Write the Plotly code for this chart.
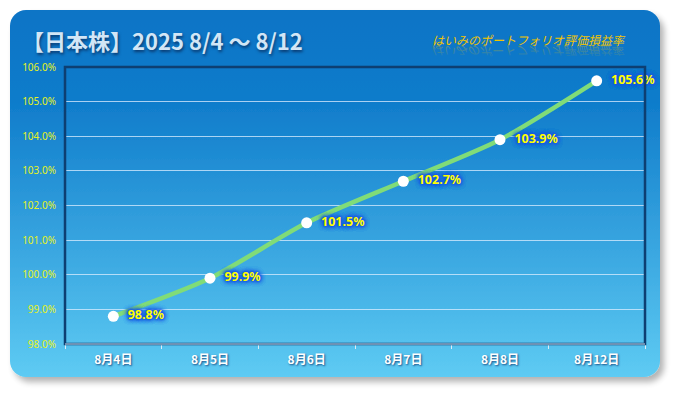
import base64
import plotly.graph_objects as go

# ---- data ----
categories = ["8月4日", "8月5日", "8月6日", "8月7日", "8月8日", "8月12日"]
values = [98.8, 99.9, 101.5, 102.7, 103.9, 105.6]
labels = [f"{v:.1f}%" for v in values]
y_ticks = [98, 99, 100, 101, 102, 103, 104, 105, 106]
y_ticklabels = [f"{t:.1f}%" for t in y_ticks]
title_text = "【日本株】2025 8/4 〜 8/12"
subtitle_text = "はいみのポートフォリオ評価損益率"

W, H = 675, 393

# background card (rounded, gradient, drop shadow) as an SVG image
svg = f'''<svg xmlns="http://www.w3.org/2000/svg" width="{W}" height="{H}" viewBox="0 0 {W} {H}">
<defs>
<linearGradient id="g" x1="0" y1="0" x2="0" y2="1">
<stop offset="0" stop-color="#0a74c6"/>
<stop offset="0.25" stop-color="#0f7ccb"/>
<stop offset="1" stop-color="#5ecbf3"/>
</linearGradient>
<filter id="s" x="-10%" y="-10%" width="120%" height="125%">
<feGaussianBlur in="SourceAlpha" stdDeviation="3"/>
<feOffset dx="4" dy="5" result="o"/>
<feComponentTransfer><feFuncA type="linear" slope="0.3"/></feComponentTransfer>
<feMerge><feMergeNode/><feMergeNode in="SourceGraphic"/></feMerge>
</filter>
<linearGradient id="rf" x1="0" y1="0" x2="0" y2="1">
<stop offset="0" stop-color="#f0c000" stop-opacity="0.0"/>
<stop offset="1" stop-color="#f0c000" stop-opacity="0.4"/>
</linearGradient>
</defs>
<rect x="10" y="10" width="650" height="367" rx="16" ry="16" fill="url(#g)" filter="url(#s)"/>
<g transform="translate(0,93) scale(1,-1)">
<text x="431" y="47" font-family="Noto Sans CJK JP" font-style="italic" font-size="12" fill="url(#rf)">{subtitle_text}</text>
</g>
</svg>'''
svg_uri = "data:image/svg+xml;base64," + base64.b64encode(svg.encode("utf-8")).decode()

glow = ", ".join(["0px 0px 5px #1b5be2"] * 5 + ["0px 0px 2px #1b5be2"] * 3)

fig = go.Figure()

fig.add_trace(go.Scatter(
    x=categories, y=values,
    mode="lines+markers+text",
    line=dict(color="#80dc78", width=4.5, shape="spline", smoothing=0.7),
    marker=dict(color="white", size=11, line=dict(width=0)),
    text=labels,
    texttemplate="  %{text}",
    textposition="middle right",
    textfont=dict(family="Noto Sans, DejaVu Sans, sans-serif", size=12.5, color="#ffff00",
                  weight="bold", shadow=glow),
    cliponaxis=False,
    hoverinfo="skip",
    showlegend=False,
))

fig.update_layout(
    width=W, height=H,
    margin=dict(l=65, r=30, t=67, b=49),
    paper_bgcolor="white",
    plot_bgcolor="rgba(0,0,0,0)",
    images=[dict(source=svg_uri, xref="paper", yref="paper", x=-65 / 580, y=1 + 67 / 277,
                 sizex=W / 580, sizey=H / 277, xanchor="left", yanchor="top",
                 sizing="stretch", layer="below")],
    xaxis=dict(
        type="category", range=[-0.5, 5.5],
        showgrid=False, zeroline=False,
        showline=True, linecolor="#cfe4f4", linewidth=1,
        ticks="outside", tickson="boundaries", ticklen=4, tickcolor="#dcecf8", tickwidth=1,
        tickfont=dict(family="Noto Sans CJK JP", size=12, color="white", weight="bold",
                      shadow="1px 1px 2px #1b4f86"),
        ticklabelstandoff=5,
        fixedrange=True,
    ),
    yaxis=dict(
        range=[98, 106], tickvals=y_ticks, ticktext=y_ticklabels,
        showgrid=True, gridcolor="rgba(220,238,255,0.75)", gridwidth=1,
        zeroline=False, showline=False, ticks="",
        tickfont=dict(family="Noto Sans, DejaVu Sans, sans-serif", size=10, color="#e6f21c"),
        ticklabelstandoff=8,
        fixedrange=True,
    ),
    shapes=[
        dict(type="rect", xref="paper", yref="paper", x0=0, x1=1, y0=0, y1=1,
             line=dict(color="#0d3f72", width=2.5), layer="above"),
        dict(type="line", xref="paper", yref="paper", x0=0, x1=1, y0=0, y1=0,
             line=dict(color="#cfe4f4", width=1), layer="above"),
    ],
    annotations=[
        dict(text=title_text, xref="paper", yref="paper", x=-45 / 580, y=1 + 27 / 277,
             xanchor="left", yanchor="middle", showarrow=False,
             font=dict(family="Noto Sans CJK JP", size=22, color="#d2e6f6", weight="bold",
                       shadow="1px 2px 3px #0a3a70")),
        dict(text=subtitle_text, xref="paper", yref="paper", x=365 / 580, y=1 + 27 / 277,
             xanchor="left", yanchor="middle", showarrow=False,
             font=dict(family="Noto Sans CJK JP", size=12, color="#f2c400", style="italic")),
    ],
)

fig.write_html("out.html", config={"displayModeBar": False},
               post_script="document.body.style.margin='0';")
